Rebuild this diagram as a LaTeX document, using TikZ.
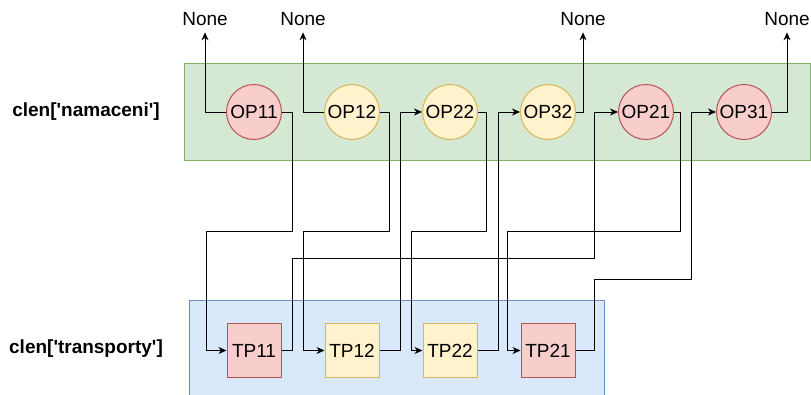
\documentclass[tikz,border=0pt]{standalone}
\usepackage{fontspec}
\setmainfont{Liberation Sans}
\usetikzlibrary{arrows.meta,positioning}
\definecolor{namFill}{HTML}{D5E8D4}
\definecolor{namDraw}{HTML}{82B366}
\definecolor{traFill}{HTML}{DAE8FC}
\definecolor{traDraw}{HTML}{6C8EBF}
\definecolor{redFill}{HTML}{F8CECC}
\definecolor{redDraw}{HTML}{B85450}
\definecolor{yelFill}{HTML}{FFF2CC}
\definecolor{yelDraw}{HTML}{D6B656}
\newcommand{\dfont}{\fontsize{19}{21}\selectfont}
\tikzset{
  op/.style={circle,draw,line width=1pt,minimum size=55pt,inner sep=0pt,font=\dfont},
  opred/.style={op,draw=redDraw,fill=redFill},
  opyel/.style={op,draw=yelDraw,fill=yelFill},
  tp/.style={rectangle,draw,line width=1pt,minimum size=54pt,inner sep=0pt,font=\dfont},
  tpred/.style={tp,draw=redDraw,fill=redFill},
  tpyel/.style={tp,draw=yelDraw,fill=yelFill},
  flow/.style={-{Stealth[length=8pt,width=7pt,inset=2.5pt]},line width=1pt},
  nonelab/.style={font=\dfont,inner xsep=0pt,inner ysep=6.5pt},
  lanelab/.style={font=\dfont\bfseries,inner sep=0pt},
}

\begin{document}
\begin{tikzpicture}[x=1pt,y=-1pt,node distance=183pt and 42pt]
  \useasboundingbox (0,0) rectangle (811,394);
  % lanes
  \draw[line width=1pt,draw=namDraw,fill=namFill] (184,63) rectangle (810,160);
  \draw[line width=1pt,draw=traDraw,fill=traFill] (189,300) rectangle (604,397);
  \node[lanelab] (lbnam) at (86,112) {clen[\textquotesingle namaceni\textquotesingle]};
  \node[lanelab] (lbtra) at (86,349) {clen[\textquotesingle transporty\textquotesingle]};

  % operations
  \node[opred] (op11) at (254,112) {OP11};
  \node[opyel,right=of op11] (op12) {OP12};
  \node[opyel,right=of op12] (op22) {OP22};
  \node[opyel,right=of op22] (op32) {OP32};
  \node[opred,right=of op32] (op21) {OP21};
  \node[opred,right=of op21] (op31) {OP31};

  % transports
  \node[tpred,below=of op11] (tp11) {TP11};
  \node[tpyel,below=of op12] (tp12) {TP12};
  \node[tpyel,below=of op22] (tp22) {TP22};
  \node[tpred,below=of op32] (tp21) {TP21};

  \node[nonelab] (none11) at (205,19) {None};
  \node[nonelab] (none12) at (303,19) {None};
  \node[nonelab] (none32) at (583,19) {None};
  \node[nonelab] (none31) at (787,19) {None};

  \draw[flow] (op11.west) -| (none11.south);
  \draw[flow] (op12.west) -| (none12.south);
  \draw[flow] (op32.east) -| (none32.south);
  \draw[flow] (op31.east) -| (none31.south);

  % job 1
  \draw[flow] (op11.east) -| (292,231) -- (206,231) |- (tp11.west);
  \draw[flow] (tp11.east) -| (292,258) -- (594,258) |- (op21.west);
  \draw[flow] (op21.east) -| (680,231) -- (507,231) |- (tp21.west);
  \draw[flow] (tp21.east) -| (594,279) -- (691,279) |- (op31.west);
  % job 2
  \draw[flow] (op12.east) -| (389,231) -- (303,231) |- (tp12.west);
  \draw[flow] (tp12.east) -- ++(21,0) |- (op22.west);
  \draw[flow] (op22.east) -| (486,231) -- (411,231) |- (tp22.west);
  \draw[flow] (tp22.east) -- ++(21,0) |- (op32.west);
\end{tikzpicture}
\end{document}
